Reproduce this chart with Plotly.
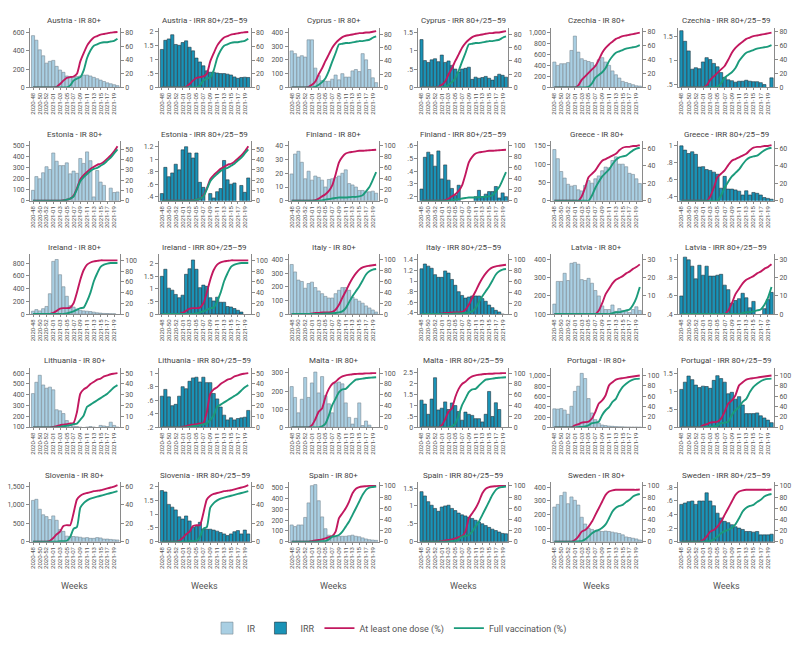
import plotly.graph_objects as go

weeks = ["2020-48", "2020-49", "2020-50", "2020-51", "2020-52", "2020-53",
         "2021-01", "2021-02", "2021-03", "2021-04", "2021-05", "2021-06", "2021-07",
         "2021-08", "2021-09", "2021-10", "2021-11", "2021-12", "2021-13", "2021-14",
         "2021-15", "2021-16", "2021-17", "2021-18", "2021-19", "2021-20"]
week_ticks = weeks[0:25:2]

countries = ["Austria", "Cyprus", "Czechia", "Estonia", "Finland", "Greece",
             "Ireland", "Italy", "Latvia", "Lithuania", "Malta", "Portugal",
             "Slovenia", "Spain", "Sweden"]

N = None
# ---- IR 80+ (per 100,000) ----
austria_ir = [565,515,410,345,265,285,295,230,190,165,125,120,110,120,125,135,135,125,110,95,80,65,50,40,30,20]
cyprus_ir = [265,245,220,230,220,345,345,140,85,50,45,45,60,90,55,100,75,75,120,130,115,245,200,130,70,35]
czechia_ir = [460,400,430,430,450,670,930,640,520,490,470,450,400,500,540,460,400,300,230,170,110,90,70,50,30,25]
estonia_ir = [95,220,200,255,310,285,435,360,320,320,345,245,270,250,385,340,445,365,35,275,170,140,N,115,75,80]
finland_ir = [19.5,34,36,28,16,21.5,15,18,17,15,10,15.5,16,17,18,20,22.5,12.5,11.5,10,7.5,7.5,6.5,6.5,7,5.5]
greece_ir = [140,115,80,62,45,40,42,30,27,42,55,48,60,68,82,92,90,110,120,100,100,93,75,72,60,47]
ireland_ir = [45,70,50,85,120,320,830,860,620,430,280,130,110,80,60,50,45,40,30,20,15,10,8,5,4,N]
italy_ir = [365,310,250,240,190,225,235,195,170,150,130,118,118,150,175,195,195,175,125,110,95,80,60,45,30,15]
latvia_ir = [155,280,280,325,285,380,385,375,290,285,297,270,230,200,145,125,125,150,115,130,120,115,108,125,140,120]
lithuania_ir = [410,515,580,490,460,470,445,260,250,225,160,120,110,105,100,95,100,105,100,N,115,110,105,145,115,100]
malta_ir = [225,165,80,155,275,165,245,305,190,280,175,130,80,245,250,240,135,55,18,50,135,10,35,12,N,N]
portugal_ir = [360,355,365,335,255,410,700,800,1050,950,560,280,150,80,45,35,25,20,15,12,10,8,6,5,5,4]
slovenia_ir = [1120,1150,880,730,680,600,700,580,330,280,150,140,140,130,120,100,110,90,90,110,100,70,70,60,50,45]
spain_ir = [155,140,155,155,225,360,520,530,380,230,120,60,40,45,50,50,50,55,60,50,45,35,25,18,15,12]
sweden_ir = [255,275,340,365,280,330,305,270,180,130,100,90,80,80,75,78,75,70,65,60,50,35,30,25,20,12]

# ---- IRR 80+/25-59 ----
austria_irr = [1.37,1.7,1.75,1.9,1.55,1.52,1.62,1.68,1.45,1.32,1.06,0.92,0.78,0.6,0.55,0.55,0.52,0.5,0.5,0.48,0.45,0.38,0.33,0.36,0.37,0.36]
cyprus_irr = [1.3,0.73,0.68,0.75,0.78,0.7,0.88,0.68,0.72,0.6,0.5,0.42,0.5,0.52,0.55,0.22,0.28,0.25,0.27,0.3,0.25,0.2,0.3,0.36,0.33,0.28]
czechia_irr = [1.62,1.4,1.2,0.82,0.85,0.83,0.97,1.06,1.02,0.94,0.87,0.75,0.65,0.6,0.58,0.55,0.57,0.57,0.59,0.57,0.56,0.56,0.54,0.5,N,0.64]
estonia_irr = [0.45,0.87,0.72,0.78,0.92,0.83,1.15,1.2,1.1,1.02,1.1,0.63,0.55,N,0.45,0.38,0.48,0.53,0.98,0.67,0.6,0.62,N,0.58,0.47,0.7]
finland_irr = [0.26,0.51,0.55,0.53,0.44,0.56,0.34,0.45,0.33,0.265,0.21,0.29,N,N,N,N,0.2,0.25,0.2,0.22,0.24,0.24,0.28,0.19,0.23,0.2]
greece_irr = [1.0,0.95,0.91,0.93,0.9,0.75,0.755,0.72,0.71,0.69,0.665,0.5,0.64,0.49,0.49,0.48,0.465,0.42,0.47,0.42,0.45,0.44,0.42,0.39,0.38,0.37]
ireland_irr = [1.5,1.78,1.03,0.95,0.78,0.65,0.75,1.58,1.8,2.15,1.78,1.05,1.15,1.1,0.65,0.52,0.67,0.47,0.47,0.3,0.28,0.22,0.15,0.08,N,N]
italy_irr = [1.23,1.32,1.28,1.24,1.12,1.07,1.07,1.19,1.15,1.03,0.92,0.8,0.73,0.68,0.7,0.72,0.72,0.72,0.67,0.62,0.55,0.5,0.45,0.42,0.38,N]
latvia_irr = [0.6,1.03,1.0,0.93,0.79,0.94,0.83,0.93,0.82,0.82,0.83,0.84,0.72,0.67,0.52,0.55,0.57,0.63,0.58,0.47,0.54,N,N,0.46,0.56,0.64]
lithuania_irr = [0.66,0.76,0.65,0.52,0.54,0.66,0.8,0.77,0.88,0.93,0.94,0.87,0.94,0.86,0.86,0.7,0.62,0.5,0.38,0.31,0.34,0.31,0.33,0.34,0.35,0.45]
malta_irr = [1.25,1.07,0.6,1.3,2.28,0.8,0.88,1.17,0.82,1.12,1.0,0.73,0.33,0.7,0.6,0.55,0.4,0.4,0.25,0.6,1.65,0.5,1.13,0.82,N,N]
portugal_irr = [1.05,1.25,1.42,1.32,1.17,1.1,1.14,1.13,1.08,1.3,1.43,1.35,1.25,0.93,0.97,0.78,0.85,0.62,0.38,0.38,0.38,0.4,0.32,0.26,0.2,0.13]
slovenia_irr = [1.85,1.8,1.35,1.25,1.15,0.9,0.82,0.93,0.75,0.52,0.55,0.7,0.45,0.45,0.45,0.42,0.38,0.33,0.28,0.22,0.28,0.36,0.4,0.28,0.42,0.28]
spain_irr = [1.4,1.28,1.12,1.02,0.93,0.85,0.97,1.0,1.02,0.93,0.87,0.8,0.75,0.72,0.68,0.65,0.6,0.55,0.5,0.45,0.4,0.35,0.31,0.27,0.23,0.22]
sweden_irr = [0.55,0.57,0.59,0.6,0.55,0.6,0.6,0.72,0.6,0.53,0.42,0.35,0.3,0.28,0.25,0.22,0.2,0.18,0.15,0.15,0.14,0.15,0.1,0.1,0.1,0.11]

# ---- At least one dose (%) ----
austria_dose1 = [0,0,0,0,0,0,0,1,5,10,14,15,16,20,38,50,61,68,73,75,77,78,79,80,80.5,81]
cyprus_dose1 = [0,0,0,0,0,1,4,9,20,29,40,50,60,67,72,76,78,79,80,81,82,82,83,83,84,85]
czechia_dose1 = [0,0,0,0,0,0,0,3,11,16,21,26,31,40,50,57,62,66,70,72,74,75,76,77,78,79]
estonia_dose1 = [0,0,0,0,0,0,0,0,0,0.5,1,2,5,12,21,25,28,31,33,35,36,38,41,44,48,53]
finland_dose1 = [0,0,0,0,0,0,0,1,4,8,12,18,28,48,70,80,86,88,89,90,91,91,91.5,92,92.5,93]
greece_dose1 = [0,0,0,0,0,0,0,0,5,15,27,31,35,41,46,48,50,52,54,58,61,62,62,63,63,64]
ireland_dose1 = [0,0,0,0,0,0,2,6,10,11,11,12,20,40,64,82,92,96,98,99,100,100,100,100,100,100]
italy_dose1 = [0,0,0,0,0,0,1,2,2,3,3,3,4,8,17,30,42,55,66,75,82,86,88,89,90,91]
latvia_dose1 = [0,0,0,0,0,0,0,0,0,0,0,0,0,2,6,11,14,17,19,20,21,22.5,23.5,25,26,27.5]
lithuania_dose1 = [0,0,0,0,0,0,0.5,1,2,2.5,3,3.5,4,14,31,35,37,40,42,44,45,47,48,49,49.5,50]
malta_dose1 = [0,0,0,0,0,0,4,15,29,35,56,71,80,84,90,94,96,97,98,98.5,99,99,99.5,99.5,100,100]
portugal_dose1 = [0,0,0,0,0,0,4,6,9,10,11,17,30,46,52,62,81,87,92,94,95,96,97,98,99,100]
slovenia_dose1 = [0,0,0,0,0,1,4,8,11,17,18,18,31,46,50,52,53,54,55,55.5,56,57,58,59,60,61.5]
spain_dose1 = [0,0,0,0,0,0,1,2,3,4,6,8,10,18,42,51,60,72,87,95,98,99,99.5,100,100,100]
sweden_dose1 = [0,0,0,0,0,0,3,9,18,21,27,36,48,60,72,84,90,92,93,93,93,93,93,93,93,93.5]

# ---- Full vaccination (%) ----
austria_full = [0,0,0,0,0,0,0,0,0,0,0,3,10,13,15,25,43,54,61,63,65,66,66,67,68,71]
cyprus_full = [0,0,0,0,0,0,0,1,4,8,14,25,39,52,65,66,67,67,68,69,70,70,71,72,75,77]
czechia_full = [0,0,0,0,0,0,0,0,0,0,1,6,14,18,22,28,38,45,50,52,54,56,57,58,59,61]
estonia_full = [0,0,0,0,0,0,0,0,0,0.3,1,2,4,11,19,23,26,29,31,32,34,36,39,42,46,50]
finland_full = [0,0,0,0,0,0,0,0,0,0.5,2,3,4,5,6,6,6,6.5,7,7,8,10,17,25,38,52]
greece_full = [0,0,0,0,0,0,0,0,0,0,0,6,15,22,28,32,36,42,47,50,51,52,55,58,60,61]
ireland_full = [0,0,0,0,0,0,0,0,0,0,1,3,5,8,11,12,24,40,61,76,88,92,94,95,95,95]
italy_full = [0,0,0,0,0,0,0,0,0,0.5,1,1,1.5,2,3,5,11,22,33,42,51,62,73,79,82,83]
latvia_full = [0,0,0,0,0,0,0,0,0,0,0,0,0,0,0,0,0,0.5,1,1,1.5,2,2.5,5,9,15]
lithuania_full = [0,0,0,0,0,0,0,0,0.5,1,1.5,2,3,3.5,7,11,19,21,23,25,27,29,31,34,37,39]
malta_full = [0,0,0,0,0,0,0,0,0,2,7,22,41,53,65,70,71,77,83,88,89,90,91,91.5,92,92.5]
portugal_full = [0,0,0,0,0,0,0,0.5,1,2,4,8,9,11,24,33,39,49,55,68,78,84,89,92,93.5,94]
slovenia_full = [0,0,0,0,0,0,0,0,0.5,0.5,1,5,14,16,37,42,45,47,48,49,50,51,52,53,54,55]
spain_full = [0,0,0,0,0,0,0,0,0.5,1,1,4,9,10,12,18,27,36,48,60,72,84,93,97,98,99]
sweden_full = [0,0,0,0,0,0,0,0.5,1,4,9,15,19,21,25,31,42,54,61,64,66,71,75,81,84,85.5]

ir_series = [austria_ir, cyprus_ir, czechia_ir, estonia_ir, finland_ir, greece_ir, ireland_ir,
             italy_ir, latvia_ir, lithuania_ir, malta_ir, portugal_ir, slovenia_ir, spain_ir, sweden_ir]
irr_series = [austria_irr, cyprus_irr, czechia_irr, estonia_irr, finland_irr, greece_irr, ireland_irr,
              italy_irr, latvia_irr, lithuania_irr, malta_irr, portugal_irr, slovenia_irr, spain_irr, sweden_irr]
dose1_series = [austria_dose1, cyprus_dose1, czechia_dose1, estonia_dose1, finland_dose1, greece_dose1,
                ireland_dose1, italy_dose1, latvia_dose1, lithuania_dose1, malta_dose1, portugal_dose1,
                slovenia_dose1, spain_dose1, sweden_dose1]
full_series = [austria_full, cyprus_full, czechia_full, estonia_full, finland_full, greece_full,
               ireland_full, italy_full, latvia_full, lithuania_full, malta_full, portugal_full,
               slovenia_full, spain_full, sweden_full]

# ---- axis settings (ranges / ticks) ----
ir_ticks = [[0,200,400,600],[0,100,200,300,400],[0,200,400,600,800,1000],
            [0,100,200,300,400,500],[0,10,20,30,40],[0,50,100,150],
            [0,200,400,600,800],[0,100,200,300,400],[100,200,300,400],
            [100,200,300,400,500,600],[0,100,200,300],[0,200,400,600,800,1000],
            [0,500,1000,1500],[0,100,200,300,400,500],[0,100,200,300,400]]
ir_ranges = [[0,650],[0,432],[0,1080],[0,543],[0,43.4],[0,163],[0,940],[0,439],[100,429],
             [97,650],[0,329],[0,1160],[0,1620],[0,554],[0,440]]
irr_ticks = [[0,.5,1,1.5,2],[0,.5,1,1.5],[.5,1,1.5],[.4,.6,.8,1,1.2],[.2,.3,.4,.5,.6],[.4,.6,.8,1],
             [0,.5,1,1.5,2],[.4,.6,.8,1,1.2,1.4],[.4,.6,.8,1],[.2,.4,.6,.8,1],[0,.5,1,1.5,2,2.5],
             [0,.5,1,1.5],[0,.5,1,1.5,2],[0,.5,1,1.5],[0,.2,.4,.6,.8]]
irr_ranges = [[0,2.15],[0,1.62],[0.44,1.68],[0.335,1.29],[0.168,0.637],[0.352,1.056],[0,2.37],
              [0.38,1.5],[0.4,1.06],[0.2,1.08],[0,2.74],[0,1.65],[0,2.16],[0,1.67],[0,0.88]]
vac_max = [87,90,86,58,108.6,68.6,111,110,33,55,110,115,65,107,107]
vac_step = [20,20,20,10,20,20,20,20,10,10,20,20,20,20,20]


def fmt(v):
    if v >= 1000:
        return f"{v:,.0f}"
    if float(v).is_integer():
        return str(int(v))
    s = f"{v:g}"
    if s.startswith("0."):
        s = s[1:]
    return s


col_x = [(29, 119), (158, 250), (288, 378), (418, 508), (551, 642), (678, 774)]
row_top = [28, 142, 256, 370, 485]
PH = 60
W, H = 798, 650

C_IR = "#a9cfe3"
C_IR_LINE = "#7a8a93"
C_IRR = "#1a93b7"
C_IRR_LINE = "#23363f"
C_DOSE = "#c2185f"
C_FULL = "#1b9b7b"
AX = "#8a8a8a"
TXT = "#555555"
FONT = "Liberation Sans Narrow, Roboto, Arial, sans-serif"

fig = go.Figure()
layout = dict(width=W, height=H, margin=dict(l=0, r=0, t=0, b=0), autosize=False,
              paper_bgcolor="white", plot_bgcolor="white", bargap=0.08,
              font=dict(family=FONT, color=TXT, size=7), showlegend=True)
annotations = []

n = 0
for r in range(5):
    for c in range(6):
        n += 1
        k = r * 3 + c // 2
        is_ir = (c % 2 == 0)
        xr = "x" if n == 1 else f"x{n}"
        yl = "y" if n == 1 else f"y{n}"
        yr = f"y{n + 30}"
        first = (n == 1)
        first_irr = (n == 2)
        vals = ir_series[k] if is_ir else irr_series[k]
        fig.add_trace(go.Bar(
            x=weeks, y=vals, xaxis=xr, yaxis=yl,
            marker=dict(color=C_IR if is_ir else C_IRR,
                        line=dict(color=C_IR_LINE if is_ir else C_IRR_LINE, width=0.6)),
            name="IR" if is_ir else "IRR",
            showlegend=first or first_irr, legendrank=1 if is_ir else 2,
            hoverinfo="skip"))
        fig.add_trace(go.Scatter(
            x=weeks, y=dose1_series[k], xaxis=xr, yaxis=yr, mode="lines",
            line=dict(color=C_DOSE, width=1.9, shape="spline", smoothing=0.6),
            name="At least one dose (%)", showlegend=first, legendrank=3, hoverinfo="skip"))
        fig.add_trace(go.Scatter(
            x=weeks, y=full_series[k], xaxis=xr, yaxis=yr, mode="lines",
            line=dict(color=C_FULL, width=1.9, shape="spline", smoothing=0.6),
            name="Full vaccination (%)", showlegend=first, legendrank=4, hoverinfo="skip"))

        x0, x1 = col_x[c]
        y0 = row_top[r]
        y1 = y0 + PH
        xdom = [x0 / W, x1 / W]
        ydom = [1 - y1 / H, 1 - y0 / H]
        xkey = "xaxis" if n == 1 else f"xaxis{n}"
        ylkey = "yaxis" if n == 1 else f"yaxis{n}"
        yrkey = f"yaxis{n + 30}"

        layout[xkey] = dict(domain=xdom, anchor=yl, type="category",
                            range=[-0.9, 25.7], tickmode="array", tickvals=week_ticks,
                            ticktext=week_ticks, tickangle=-90,
                            tickfont=dict(size=6, color=TXT), ticks="outside", ticklen=2,
                            tickcolor=AX, showline=True, linecolor=AX, linewidth=1,
                            showgrid=False, zeroline=False, fixedrange=True)
        tv = ir_ticks[k] if is_ir else irr_ticks[k]
        rg = ir_ranges[k] if is_ir else irr_ranges[k]
        layout[ylkey] = dict(domain=ydom, anchor=xr, range=rg, tickmode="array",
                             tickvals=tv, ticktext=[fmt(v) for v in tv],
                             tickfont=dict(size=7, color=TXT), ticks="outside", ticklen=3,
                             tickcolor=AX, showline=True, linecolor=AX, linewidth=1,
                             showgrid=False, zeroline=False, fixedrange=True)
        rt = list(range(0, int(vac_max[k]) + 1, vac_step[k]))
        layout[yrkey] = dict(overlaying=yl, anchor=xr, side="right",
                             range=[0, vac_max[k]], tickmode="array", tickvals=rt,
                             ticktext=[str(v) for v in rt],
                             tickfont=dict(size=7, color=TXT), ticks="outside", ticklen=3,
                             tickcolor=AX, showline=True, linecolor=AX, linewidth=1,
                             showgrid=False, zeroline=False, fixedrange=True)

        title = f"{countries[k]} - IR 80+" if is_ir else f"{countries[k]} - IRR 80+/25\u201359"
        annotations.append(dict(text=title, xref="paper", yref="paper",
                                x=(x0 + x1) / 2 / W, y=1 - (y0 - 7) / H,
                                xanchor="center", yanchor="middle", showarrow=False,
                                font=dict(size=8, color="#444444")))
        if r == 4:
            annotations.append(dict(text="Weeks", xref="paper", yref="paper",
                                    x=(x0 + x1) / 2 / W, y=1 - 590 / H,
                                    xanchor="center", yanchor="middle", showarrow=False,
                                    font=dict(size=9, color=TXT)))

layout["annotations"] = annotations
layout["legend"] = dict(orientation="h", x=389 / W, xanchor="center", y=1 - 632 / H,
                        yanchor="middle", font=dict(size=9, color=TXT),
                        itemwidth=30, traceorder="normal", bgcolor="rgba(0,0,0,0)")
fig.update_layout(**layout)
fig.write_html("out.html", config={"displayModeBar": False},
               post_script="document.body.style.margin='0';document.body.style.overflow='hidden';")
